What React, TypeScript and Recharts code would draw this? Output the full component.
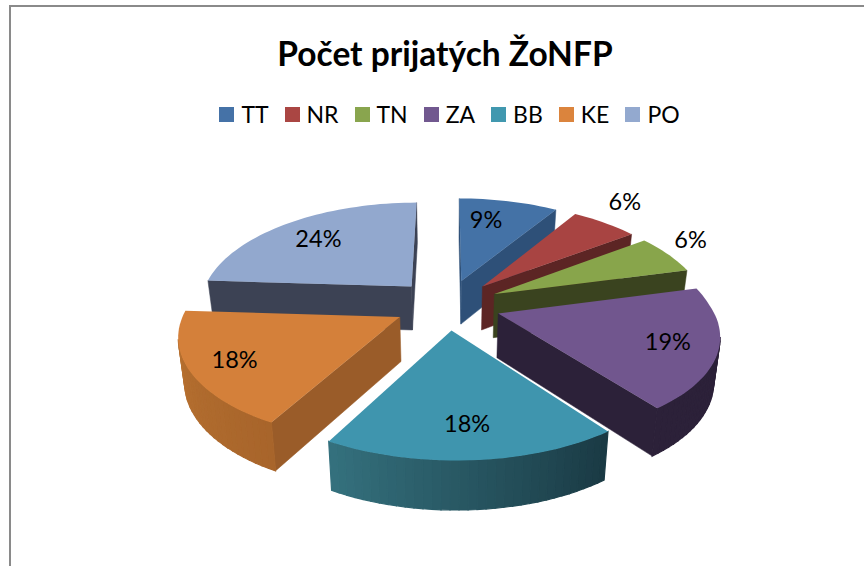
import { PieChart, Pie, Legend } from 'recharts';

// Počet prijatých ŽoNFP - exploded 3D pie, walls drawn in a custom Pie shape
const regions = ['TT', 'NR', 'TN', 'ZA', 'BB', 'KE', 'PO'];
const shares = [9, 6, 6, 19, 18, 18, 24];

const topColors = ['#4572A7', '#AA4643', '#89A54E', '#71588F', '#4198AF', '#DB843D', '#93A9CF'];
const edgeColors = ['#2E5078', '#5C2524', '#3A431F', '#2C2139', '#1A3A44', '#9A5C29', '#3C4254'];
const surfaceColors = ['#4472A6', '#A84442', '#88A54B', '#71568E', '#3F95AE', '#D4803A', '#92A8CE'];
const arcColors = [
  ['#2E5078', '#2E5078'],
  ['#5C2524', '#5C2524'],
  ['#3A431F', '#3A431F'],
  ['#2C2139', '#2C2139'],
  ['#1A3A44', '#35727F'],
  ['#A8652B', '#BB7432'],
  ['#3C4254', '#3C4254'],
];
const labelRadius = [0.74, 1.32, 1.22, 0.78, 0.75, 0.8, 0.74];
const labelTurn = [-5, -4, -4.8, 0, 0, 0, 0];

// PO goes first so the back slice is painted under the others
const drawOrder = [6, 0, 1, 2, 3, 4, 5];
const pieData = drawOrder.map((i) => ({
  name: regions[i],
  value: shares[i],
  fill: surfaceColors[i],
}));
const legendData = regions.map((name, i) => ({ name, color: topColors[i] }));

const CX = 447;
const CY = 305;
const RX = 213;
const RY_FRONT = 98;
const RY_BACK = 104;
const SKEW = 4;
const PERSPECTIVE = 0.17;
const EXPLODE = 0.25;
const WALL = 44;

const rad = (deg: number) => (deg * Math.PI) / 180;

function project(u: number, v: number) {
  const s = 1 / (1 - PERSPECTIVE * v);
  const ry = v < 0 ? RY_BACK : RY_FRONT;
  return { x: CX + RX * u * s + SKEW * Math.max(v, 0), y: CY + ry * v * s, s };
}

function lower(p: { x: number; y: number; s: number }) {
  return { x: CX + (p.x - CX) * 0.976, y: p.y + WALL * Math.sqrt(p.s), s: p.s };
}

function toPath(points: { x: number; y: number }[]) {
  return points.map((p, i) => `${i ? 'L' : 'M'}${p.x.toFixed(1)},${p.y.toFixed(1)}`).join(' ') + ' Z';
}

function mixHex(a: string, b: string, t: number) {
  const ch = (h: string, i: number) => parseInt(h.slice(1 + i * 2, 3 + i * 2), 16);
  const out = [0, 1, 2].map((i) => Math.round(ch(a, i) + (ch(b, i) - ch(a, i)) * t));
  return `rgb(${out.join(',')})`;
}

function Slice(props: any) {
  const { startAngle, endAngle, fill, name } = props;
  const idx = regions.indexOf(name);
  const mid = (startAngle + endAngle) / 2;
  const ox = EXPLODE * Math.cos(rad(mid));
  const oy = -EXPLODE * Math.sin(rad(mid));

  const apex = project(ox, oy);
  const steps = Math.max(4, Math.ceil(Math.abs(endAngle - startAngle) / 2));
  const arc = [];
  for (let i = 0; i <= steps; i++) {
    const a = startAngle + ((endAngle - startAngle) * i) / steps;
    arc.push(project(ox + Math.cos(rad(a)), oy - Math.sin(rad(a))));
  }

  const wall = (a: any, b: any, color: string, key: string, sw = 0.5) =>
    b.x < a.x ? (
      <path key={key} d={toPath([a, b, lower(b), lower(a)])} fill={color} stroke={color} strokeWidth={sw} />
    ) : null;

  return (
    <g>
      {wall(apex, arc[0], edgeColors[idx], 'first')}
      {wall(arc[arc.length - 1], apex, edgeColors[idx], 'last')}
      {arc.slice(1).map((p, i) =>
        wall(arc[i], p, mixHex(arcColors[idx][0], arcColors[idx][1], i / steps), `arc${i}`, 1.2),
      )}
      <path d={toPath([apex, ...arc])} fill={fill} />
    </g>
  );
}

function SliceLabel(props: any) {
  const { midAngle, name, value } = props;
  const idx = regions.indexOf(name);
  const r = labelRadius[idx];
  const turned = midAngle - labelTurn[idx];
  const p = project(
    EXPLODE * Math.cos(rad(midAngle)) + r * Math.cos(rad(turned)),
    -EXPLODE * Math.sin(rad(midAngle)) - r * Math.sin(rad(turned)),
  );
  return (
    <text x={p.x} y={p.y} textAnchor="middle" dominantBaseline="central" fill="#000" fontSize={23.5} fontFamily="Lato">
      {value}%
    </text>
  );
}

function LegendRow() {
  return (
    <div style={{ display: 'flex', justifyContent: 'center', gap: 16, fontFamily: 'Lato', fontSize: 23, color: '#000' }}>
      {legendData.map((d) => (
        <span key={d.name} style={{ display: 'flex', alignItems: 'center', gap: 7 }}>
          <span style={{ width: 15, height: 15, background: d.color, display: 'inline-block' }} />
          {d.name}
        </span>
      ))}
    </div>
  );
}

export default function App() {
  return (
    <div style={{ position: 'absolute', left: 0, top: 0, width: 864, height: 566, overflow: 'hidden', background: '#fff' }}>
      <div
        style={{
          position: 'absolute',
          left: 9,
          top: 5,
          width: 900,
          height: 600,
          borderLeft: '2px solid #8a8a8a',
          borderTop: '2px solid #8a8a8a',
        }}
      />
      <div
        style={{
          position: 'absolute',
          left: 0,
          width: 890,
          top: 31,
          textAlign: 'center',
          fontFamily: 'Lato',
          fontWeight: 700,
          fontSize: 33.5,
          lineHeight: '44px',
          color: '#000',
        }}
      >
        Počet prijatých ŽoNFP
      </div>
      <PieChart width={864} height={566} margin={{ top: 0, right: 0, bottom: 0, left: 0 }} style={{ position: 'absolute' }}>
        <Legend content={LegendRow} wrapperStyle={{ top: 100, left: 0, width: 899 }} />
        <Pie
          data={pieData}
          dataKey="value"
          nameKey="name"
          cx={CX}
          cy={CY}
          outerRadius={RX}
          startAngle={-183.6}
          endAngle={-543.6}
          stroke="none"
          shape={Slice}
          label={SliceLabel}
          labelLine={false}
          isAnimationActive={false}
        />
      </PieChart>
    </div>
  );
}
